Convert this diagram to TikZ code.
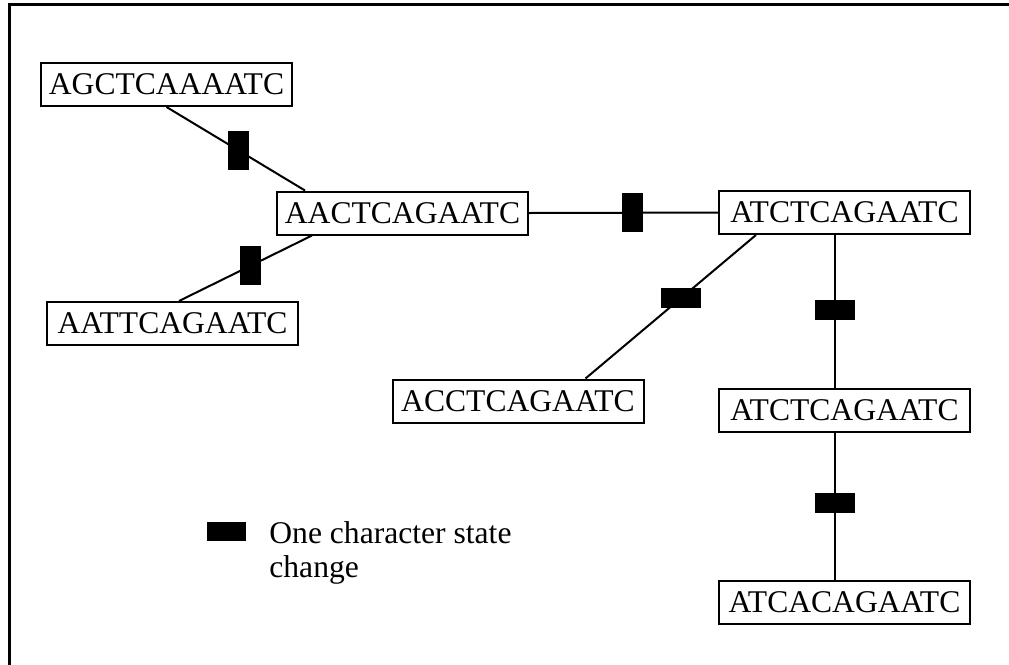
\documentclass[tikz,border=0pt]{standalone}
\usepackage{fontspec}
\setmainfont{Liberation Serif}
\usetikzlibrary{calc}
\begin{document}
\begin{tikzpicture}[x=0.5pt,y=-0.5pt,
  seqbox/.style={draw,line width=1pt,minimum width=125.5pt,minimum height=21.5pt,inner sep=0pt,
    font=\fontsize{15.8}{17}\selectfont},
  chgv/.style={fill=black,draw=none,minimum width=10.5pt,minimum height=19.5pt,inner sep=0pt,sloped=false},
  chgh/.style={fill=black,draw=none,minimum width=20pt,minimum height=10pt,inner sep=0pt,sloped=false},
  link/.style={line width=1pt}]
\useasboundingbox (0,0) rectangle (1009,665);
\draw[line width=1.5pt] (9.5,665) -- (9.5,4) -- (1009,4);

\node[seqbox] (b1) at (166.5,84.5) {AGCTCAAAATC};
\node[seqbox] (b2) at (402.5,213) {AACTCAGAATC};
\node[seqbox] (b3) at (172.5,323.5) {AATTCAGAATC};
\node[seqbox] (b4) at (844.5,212.5) {ATCTCAGAATC};
\node[seqbox] (b5) at (518,401) {ACCTCAGAATC};
\node[seqbox] (b6) at (844.5,410) {ATCTCAGAATC};
\node[seqbox] (b7) at (844.5,602) {ATCACAGAATC};

\draw[link] (b1.south) -- node[chgv,pos=0.52] (m1) {} ($(b2.north west)+(29,0)$);
\draw[link] ($(b2.south west)+(36,0)$) -- node[chgv,pos=0.46] (m2) {} ($(b3.north west)+(133,0)$);
\draw[link] (b2.east) -- node[chgv,pos=0.55] (m3) {} (b4.west);
\draw[link] ($(b4.south west)+(38,0)$) -- node[chgh,pos=0.44] (m4) {} ($(b5.north west)+(194,0)$);
\draw[link] ($(b4.south west)+(117,0)$) -- node[chgh,pos=0.49] (m5) {} ($(b6.north west)+(117,0)$);
\draw[link] ($(b6.south west)+(117,0)$) -- node[chgh,pos=0.48] (m6) {} ($(b7.north west)+(117,0)$);

\node[chgh,minimum width=19.5pt,minimum height=9.5pt] (legm) at (226.5,531.5) {};
\node[anchor=north west,inner sep=0pt,align=left,font=\fontsize{15.8}{17}\selectfont] (legt) at (269,521) {One character state\\change};
\end{tikzpicture}
\end{document}
